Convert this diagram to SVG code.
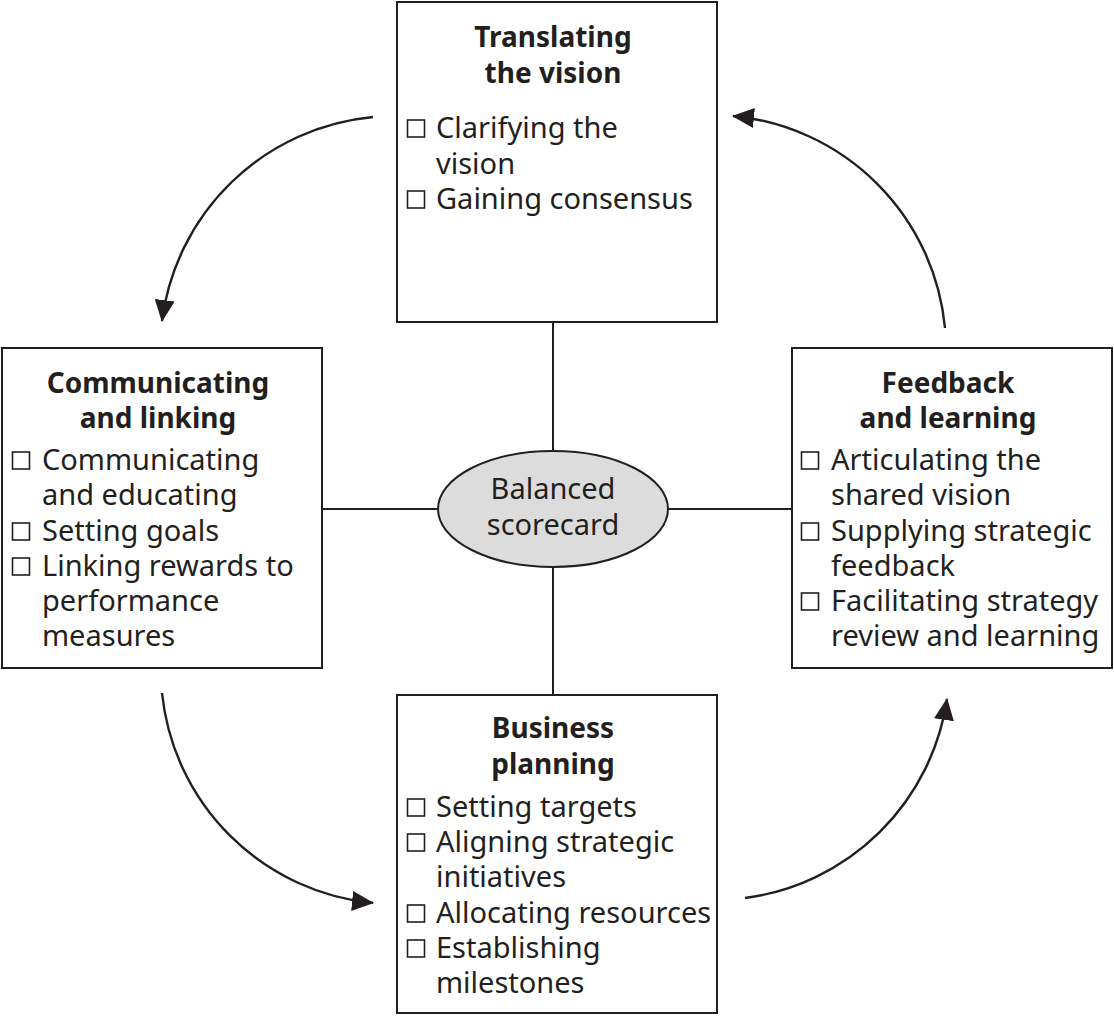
<svg xmlns="http://www.w3.org/2000/svg" width="1114" height="1017" viewBox="0 0 1114 1017">
<style>
.box{fill:#fff;stroke:#231f20;stroke-width:2}
.ell{fill:#dcdcdc;stroke:#231f20;stroke-width:2}
.cb{fill:#fff;stroke:#231f20;stroke-width:1.6}
.t{font-family:"Noto Sans","Liberation Sans",sans-serif;font-size:28px;font-weight:bold;fill:#231f20;text-anchor:middle}
.i{font-family:"Noto Sans","Liberation Sans",sans-serif;font-size:29px;fill:#231f20}
.c{font-family:"Noto Sans","Liberation Sans",sans-serif;font-size:29px;fill:#231f20;text-anchor:middle}
.ln{stroke:#231f20;stroke-width:2;fill:none}
.arc{stroke:#231f20;stroke-width:2.4;fill:none;marker-end:url(#ah)}
</style>
<defs>
<marker id="ah" viewBox="0 0 22 20" refX="21" refY="10" markerWidth="22" markerHeight="20" markerUnits="userSpaceOnUse" orient="auto">
<path d="M0,0 L22,10 L0,20 Z" fill="#231f20"/>
</marker>
</defs>
<g id="connectors">
<line class="ln" x1="553" y1="322" x2="553" y2="451"/>
<line class="ln" x1="553" y1="567" x2="553" y2="695"/>
<line class="ln" x1="322" y1="509" x2="438" y2="509"/>
<line class="ln" x1="668" y1="509" x2="792" y2="509"/>
<path class="arc" d="M373,117 A235,235 0 0 0 162,321"/>
<path class="arc" d="M162,693 A235,235 0 0 0 373,903"/>
<path class="arc" d="M745,898 A235,235 0 0 0 947,699"/>
<path class="arc" d="M945,328 A235,235 0 0 0 733,116"/>
</g>
<g id="center">
<ellipse class="ell" cx="553" cy="509" rx="115" ry="58"/>
<text class="c" x="553" y="499">Balanced</text>
<text class="c" x="553" y="535">scorecard</text>
</g>
<g id="translating">
<rect class="box" x="397" y="2" width="320" height="320"/>
<text class="t" x="553" y="47">Translating</text>
<text class="t" x="553" y="83">the vision</text>
<rect class="cb" x="407.5" y="120" width="17" height="17"/>
<text class="i" x="436" y="138">Clarifying the</text>
<text class="i" x="436" y="174">vision</text>
<rect class="cb" x="407.5" y="191" width="17" height="17"/>
<text class="i" x="436" y="209">Gaining consensus</text>
</g>
<g id="communicating">
<rect class="box" x="2" y="348" width="320" height="320"/>
<text class="t" x="158" y="393">Communicating</text>
<text class="t" x="158" y="428">and linking</text>
<rect class="cb" x="12.5" y="452" width="17" height="17"/>
<text class="i" x="42" y="470">Communicating</text>
<text class="i" x="42" y="505">and educating</text>
<rect class="cb" x="12.5" y="523" width="17" height="17"/>
<text class="i" x="42" y="541">Setting goals</text>
<rect class="cb" x="12.5" y="558" width="17" height="17"/>
<text class="i" x="42" y="576">Linking rewards to</text>
<text class="i" x="42" y="611">performance</text>
<text class="i" x="42" y="646">measures</text>
</g>
<g id="feedback">
<rect class="box" x="792" y="348" width="320" height="320"/>
<text class="t" x="948" y="393">Feedback</text>
<text class="t" x="948" y="428">and learning</text>
<rect class="cb" x="801.5" y="452" width="17" height="17"/>
<text class="i" x="831" y="470">Articulating the</text>
<text class="i" x="831" y="505">shared vision</text>
<rect class="cb" x="801.5" y="523" width="17" height="17"/>
<text class="i" x="831" y="541">Supplying strategic</text>
<text class="i" x="831" y="576">feedback</text>
<rect class="cb" x="801.5" y="593" width="17" height="17"/>
<text class="i" x="831" y="611">Facilitating strategy</text>
<text class="i" x="831" y="646">review and learning</text>
</g>
<g id="business">
<rect class="box" x="397" y="695" width="320" height="318"/>
<text class="t" x="553" y="738">Business</text>
<text class="t" x="553" y="774">planning</text>
<rect class="cb" x="407.5" y="799" width="17" height="17"/>
<text class="i" x="436" y="817">Setting targets</text>
<rect class="cb" x="407.5" y="834" width="17" height="17"/>
<text class="i" x="436" y="852">Aligning strategic</text>
<text class="i" x="436" y="887">initiatives</text>
<rect class="cb" x="407.5" y="905" width="17" height="17"/>
<text class="i" x="436" y="923">Allocating resources</text>
<rect class="cb" x="407.5" y="940" width="17" height="17"/>
<text class="i" x="436" y="958">Establishing</text>
<text class="i" x="436" y="993">milestones</text>
</g>
</svg>
